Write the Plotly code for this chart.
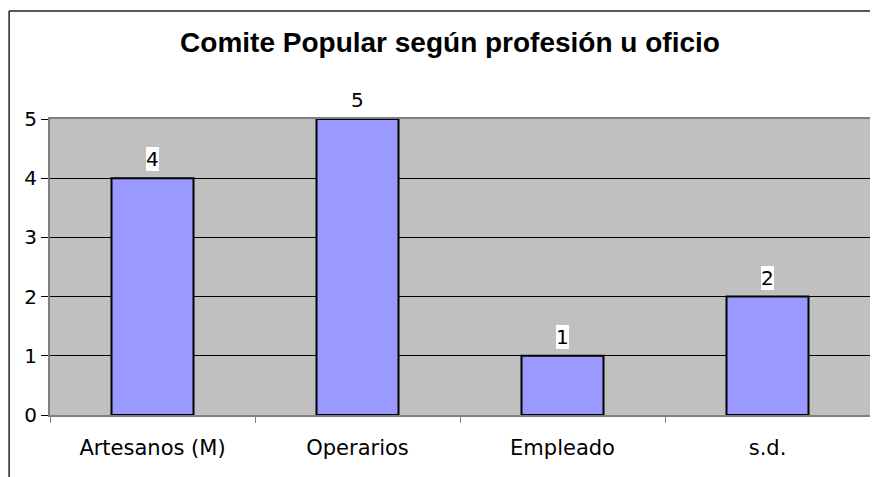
import plotly.graph_objects as go

categories = ["Artesanos (M)", "Operarios", "Empleado", "s.d."]
values = [4, 5, 1, 2]
y_ticks = [0, 1, 2, 3, 4, 5]
title_text = "Comite Popular según profesión u oficio"

# page body has an 8px margin; figure coords = page coords - 8
OFF = 8
W, H = 878 - OFF, 477 - OFF
L, R, T, B = 50 - OFF, 6, 119 - OFF, 62
pw, ph = W - L - R, H - T - B

fig = go.Figure()
fig.add_trace(go.Bar(
    x=categories, y=values,
    marker=dict(color="#9999FF", line=dict(color="black", width=2)),
    width=0.4,
))

for c, v in zip(categories, values):
    fig.add_annotation(
        x=c, y=v, text=str(v), showarrow=False,
        yanchor="bottom", yshift=7,
        bgcolor="white", borderpad=0, borderwidth=0,
        font=dict(family="DejaVu Sans", size=20, color="black"),
    )

# chart frame (left and top edges)
fx = (9 - OFF - L) / pw
fy = 1 + (T - (11 - OFF)) / ph
fig.add_shape(type="line", xref="paper", yref="paper",
              x0=fx, x1=fx, y0=-(B + 5) / ph, y1=fy,
              line=dict(color="#222222", width=1.5))
fig.add_shape(type="line", xref="paper", yref="paper",
              x0=fx, x1=(W - L + 5) / pw, y0=fy, y1=fy,
              line=dict(color="#222222", width=1.5))

fig.update_layout(
    width=W, height=H,
    margin=dict(l=L, r=R, t=T, b=B),
    paper_bgcolor="white",
    plot_bgcolor="#C0C0C0",
    showlegend=False,
    title=dict(text="<b>" + title_text + "</b>",
               x=(450 - OFF) / W, xref="container", xanchor="center",
               y=1 - (42 - OFF) / H, yref="container", yanchor="middle",
               font=dict(family="Liberation Sans, Arial", size=28, color="black")),
    font=dict(family="DejaVu Sans", size=20, color="black"),
    bargap=0.6,
)
fig.update_xaxes(
    type="category", tickson="boundaries",
    ticks="outside", ticklen=6, tickcolor="#808080", tickwidth=1,
    showline=True, linecolor="#808080", linewidth=2, mirror=True,
    showgrid=False, ticklabelstandoff=13,
    tickfont=dict(family="DejaVu Sans", size=21, color="black"),
)
fig.update_yaxes(
    range=[0, 5], tickvals=y_ticks,
    ticks="outside", ticklen=7, tickcolor="black", tickwidth=1,
    showline=True, linecolor="#808080", linewidth=2, mirror=True,
    showgrid=True, gridcolor="black", gridwidth=1,
    zeroline=False,
    tickfont=dict(family="DejaVu Sans", size=20, color="black"),
)

fig.write_html("out.html")
